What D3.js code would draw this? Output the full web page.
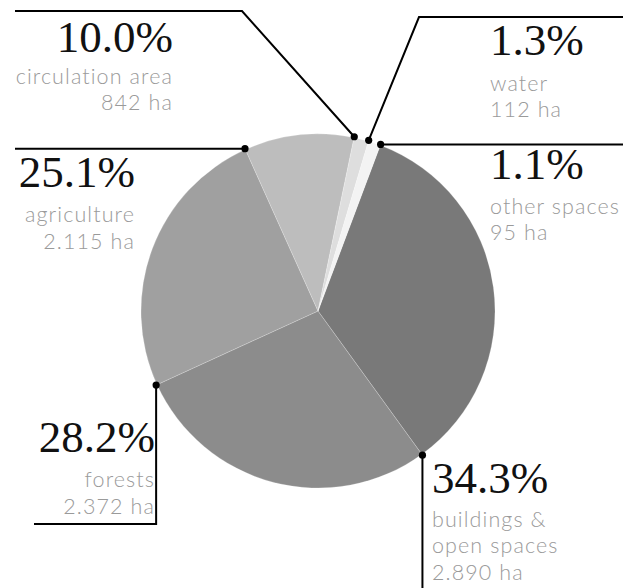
<!DOCTYPE html>
<html>
<head>
<meta charset="utf-8">
<script src="https://cdn.jsdelivr.net/npm/d3@7"></script>
<style>
  html, body { margin: 0; padding: 0; background: #fff; }
  svg { display: block; }
</style>
</head>
<body>
<svg id="chart" width="641" height="588"></svg>
<script>
// ---- data ----
const categories = ["buildings & open spaces", "forests", "agriculture", "circulation area", "water", "other spaces"];
const labelLines = [["buildings &", "open spaces"], ["forests"], ["agriculture"], ["circulation area"], ["water"], ["other spaces"]];
const hectares = [2890, 2372, 2115, 842, 112, 95];
const percentLabels = ["34.3%", "28.2%", "25.1%", "10.0%", "1.3%", "1.1%"];
const sliceColors = ["#797979", "#8c8c8c", "#a0a0a0", "#bdbdbd", "#dedede", "#f3f3f3"];

// ---- layout ----
const W = 641, H = 588;
const cx = 318, cy = 311, R = 177;
const startDeg = 20.6;

const svg = d3.select("#chart");
const g = svg.append("g").attr("transform", `translate(${cx},${cy})`);

const pie = d3.pie().sort(null).value(d => d)
  .startAngle(startDeg * Math.PI / 180)
  .endAngle(startDeg * Math.PI / 180 + 2 * Math.PI);
const arcs = pie(hectares);
const arc = d3.arc().innerRadius(0).outerRadius(R);

g.selectAll("path.slice").data(arcs).join("path")
  .attr("class", "slice")
  .attr("d", arc)
  .attr("fill", (d, i) => sliceColors[i])
  .attr("stroke", "#ffffff")
  .attr("stroke-opacity", 0.35)
  .attr("stroke-width", 0.6);

const loc = d3.formatLocale({ decimal: ",", thousands: ".", grouping: [3], currency: ["", ""] });
const fmtHa = v => loc.format(",")(v) + " ha";

// dot positions at each slice's end angle, on the rim
const dotR = R + 1;
const dotPos = arcs.map(a => [cx + dotR * Math.sin(a.endAngle), cy - dotR * Math.cos(a.endAngle)]);

// label layout: leader route + text anchor
const layout = [
  { route: p => [p, [p[0], H + 5]], x: 432, anchor: "start", base: [493, 527, 553, 580] },
  { route: p => [p, [p[0], 524], [34, 524]], x: 155, anchor: "end", base: [452, 487, 514] },
  { route: p => [p, [15, p[1]]], x: 135, anchor: "end", base: [187, 222, 249] },
  { route: p => [p, [242, 11], [15, 11]], x: 173, anchor: "end", base: [52, 84, 110] },
  { route: p => [p, [419, 17], [623, 17]], x: 490, anchor: "start", base: [55, 91, 117] },
  { route: p => [p, [623, p[1]]], x: 490, anchor: "start", base: [179, 214, 240] }
];

const line = d3.line();
const lg = svg.append("g");
categories.forEach((c, i) => {
  const L = layout[i];
  lg.append("path")
    .attr("d", line(L.route(dotPos[i])))
    .attr("fill", "none")
    .attr("stroke", "#000")
    .attr("stroke-width", 2);
  lg.append("circle")
    .attr("cx", dotPos[i][0]).attr("cy", dotPos[i][1])
    .attr("r", 3.6).attr("fill", "#000");

  lg.append("text")
    .attr("x", L.x).attr("y", L.base[0])
    .attr("text-anchor", L.anchor)
    .attr("font-family", "'Liberation Serif', 'DejaVu Serif', serif")
    .attr("font-size", 45)
    .attr("fill", "#111")
    .text(percentLabels[i]);

  const lines = labelLines[i].concat([fmtHa(hectares[i])]);
  lines.forEach((t, j) => {
    lg.append("text")
      .attr("x", L.x).attr("y", L.base[j + 1])
      .attr("text-anchor", L.anchor)
      .attr("font-family", "Lato, 'Open Sans', sans-serif")
      .attr("font-weight", 300)
      .attr("font-size", 21.5)
      .attr("letter-spacing", 1.1)
      .attr("fill", "#9a9a9a")
      .text(t);
  });
});
</script>
</body>
</html>
